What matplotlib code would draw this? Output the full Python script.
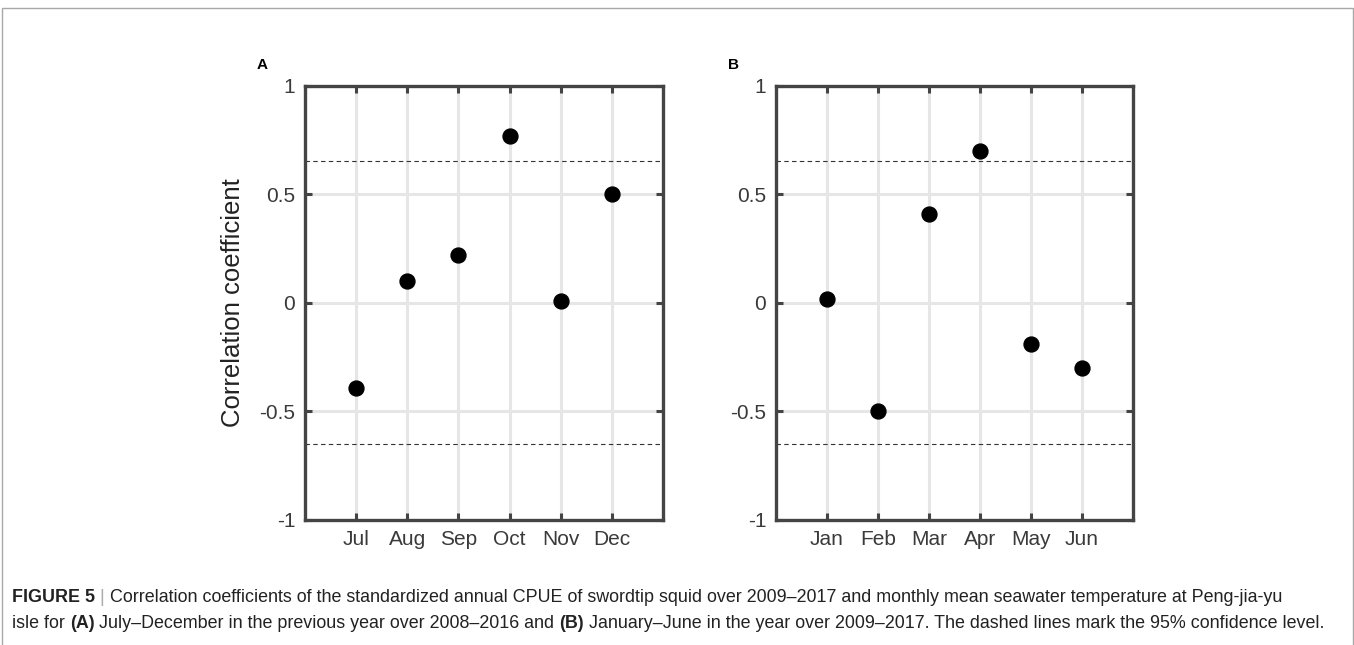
import matplotlib
matplotlib.use('Agg')
import matplotlib.pyplot as plt
from matplotlib.patches import Rectangle

plt.rcParams['font.family'] = ['Liberation Sans', 'DejaVu Sans']

months_a = ['Jul', 'Aug', 'Sep', 'Oct', 'Nov', 'Dec']
corr_a = [-0.39, 0.10, 0.22, 0.77, 0.01, 0.50]
months_b = ['Jan', 'Feb', 'Mar', 'Apr', 'May', 'Jun']
corr_b = [0.02, -0.50, 0.41, 0.70, -0.19, -0.30]
conf_level = 0.652

W, H = 1354, 645
fig = plt.figure(figsize=(W / 100, H / 100), dpi=100)

spine_col = '#444444'


def panel(rect, months, vals, letter, ylabel=None):
    ax = fig.add_axes(rect)
    x = list(range(1, len(months) + 1))
    ax.set_xlim(0, len(months) + 1)
    ax.set_ylim(-1, 1)
    for xi in x:
        ax.axvline(xi, color='#e6e6e6', lw=2.2, zorder=0)
    for yi in [-0.5, 0, 0.5]:
        ax.axhline(yi, color='#e6e6e6', lw=2.2, zorder=0)
    ax.axhline(conf_level, color='#333333', lw=0.8, ls=(0, (4, 3)), zorder=1)
    ax.axhline(-conf_level, color='#333333', lw=0.8, ls=(0, (4, 3)), zorder=1)
    ax.scatter(x, vals, s=115, color='black', zorder=3)
    ax.set_xticks(x)
    ax.set_xticklabels(months)
    ax.set_yticks([-1, -0.5, 0, 0.5, 1])
    ax.set_yticklabels(['-1', '-0.5', '0', '0.5', '1'])
    ax.tick_params(direction='in', length=5, width=2.2, color=spine_col,
                   labelsize=15, labelcolor='#3a3a3a', top=True, right=True,
                   pad=7)
    for s in ax.spines.values():
        s.set_linewidth(2.4)
        s.set_color(spine_col)
    if ylabel:
        ax.set_ylabel(ylabel, fontsize=18.5, color='#222222', labelpad=10)
    ax.text(-0.12, 1.048, letter, transform=ax.transAxes, fontsize=11,
            fontweight='bold', va='center', ha='center')
    return ax


panel([0.2253, 0.1938, 0.2644, 0.6729], months_a, corr_a, 'A',
      'Correlation coefficient')
panel([0.5731, 0.1938, 0.2637, 0.6729], months_b, corr_b, 'B')

# outer frame
fig.patches.append(Rectangle((2 / W, -0.1), (W - 3.5) / W, 1.1 - 8 / H,
                             transform=fig.transFigure, fill=False,
                             edgecolor='#a8a8a8', lw=1.0))

# caption with bold pieces
cap_font = ['Liberation Sans Narrow', 'Liberation Sans', 'DejaVu Sans']
lines = [
    [('FIGURE 5', 'bold', '#222222'), (' | ', 'normal', '#aaaaaa'),
     ('Correlation coefficients of the standardized annual CPUE of swordtip squid '
      'over 2009\u20132017 and monthly mean seawater temperature at Peng-jia-yu',
      'normal', '#222222')],
    [('isle for ', 'normal', '#222222'), ('(A)', 'bold', '#222222'),
     (' July\u2013December in the previous year over 2008\u20132016 and ', 'normal', '#222222'),
     ('(B)', 'bold', '#222222'),
     (' January\u2013June in the year over 2009\u20132017. The dashed lines mark '
      'the 95% confidence level.', 'normal', '#222222')],
]
fig.canvas.draw()
renderer = fig.canvas.get_renderer()
for yy, parts in zip([598, 623], lines):
    xpos = 12
    for txt, wt, col in parts:
        t = fig.text(xpos / W, 1 - yy / H, txt, fontsize=12.9, fontweight=wt,
                     color=col, family=cap_font, va='center', ha='left')
        bb = t.get_window_extent(renderer)
        xpos += bb.width

fig.savefig('out.png', dpi=100)
